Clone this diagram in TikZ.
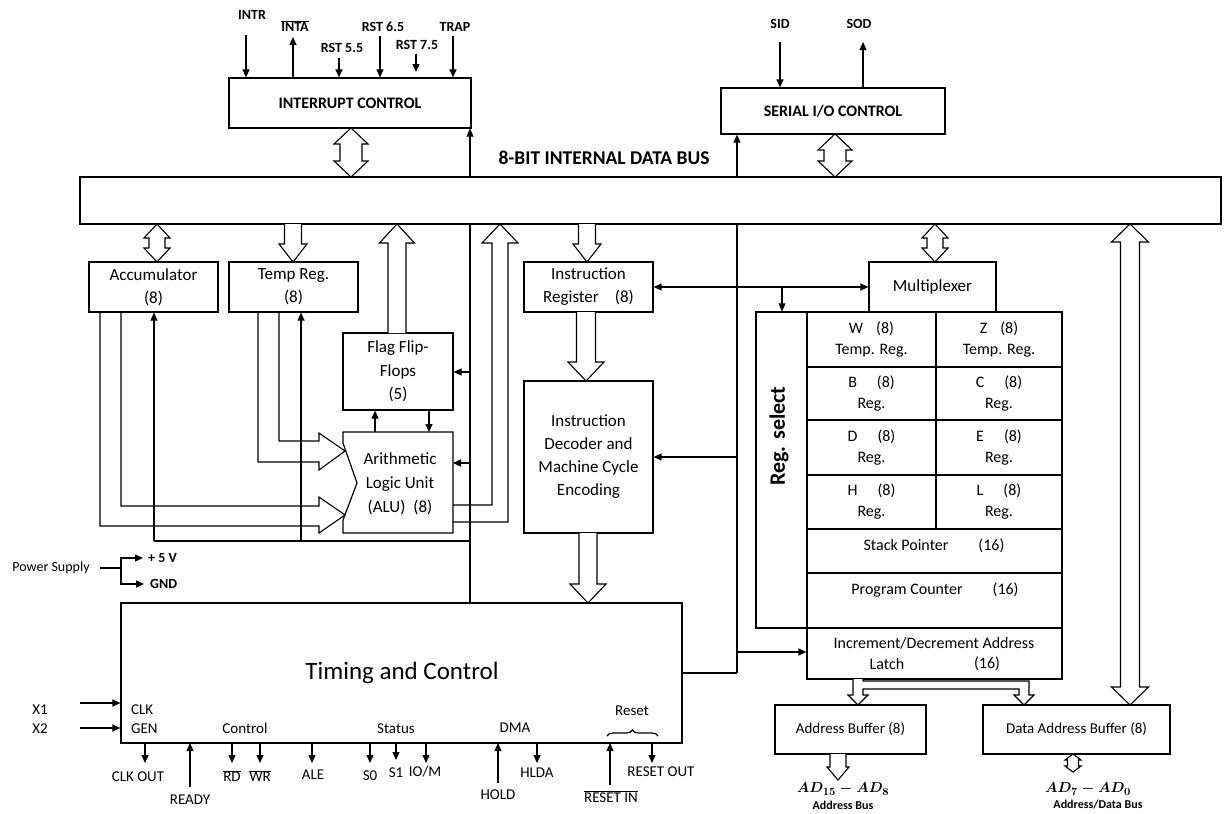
\documentclass[tikz,border=0pt]{standalone}
\usepackage{fontspec}
\setmainfont{Carlito}
\usetikzlibrary{arrows.meta,decorations.pathreplacing}
\pgfdeclarelayer{bg}
\pgfsetlayers{bg,main}
\newcommand\fs[2]{\fontsize{#1}{#2}\selectfont}
\newcommand\ovl[1]{$\overline{\mbox{#1}}$}
\tikzset{
 box/.style={draw, line width=1.2pt, fill=white, inner sep=0pt, align=center, font=\fs{17}{23}},
 ln/.style={line width=1.2pt},
 arr/.style={ln, -{Triangle[length=8pt,width=7pt]}},
 darr/.style={ln, {Triangle[length=8pt,width=7pt]}-{Triangle[length=8pt,width=7pt]}},
 hol/.style={line width=1.1pt, fill=white, line join=miter},
 hol0/.style={line width=1.1pt, line join=miter},
 lbl/.style={inner sep=0pt, font=\fs{15}{18}},
 blbl/.style={inner sep=0pt, font=\bfseries\fs{14}{17}},
 txt/.style={inner sep=0pt, align=center, font=\fs{16}{21}},
}
\newcommand\bx[7][]{%
 \pgfmathsetmacro\BXcx{(#3+#5)/2}\pgfmathsetmacro\BXcy{(#4+#6)/2}%
 \pgfmathsetmacro\BXw{#5-#3}\pgfmathsetmacro\BXh{#6-#4}%
 \node[box,minimum width=\BXw pt,minimum height=\BXh pt,#1] (#2) at (\BXcx,\BXcy) {#7};}
% hollow single vertical arrow: x, ytail, ytip, shaft half, head half, head length
\newcommand\hsv[6]{%
 \pgfmathsetmacro\HSd{ifthenelse(#3>#2,1,-1)}%
 \filldraw[hol] ({#1-#4},#2) -- ({#1-#4},{#3-\HSd*#6}) -- ({#1-#5},{#3-\HSd*#6}) -- (#1,#3) -- ({#1+#5},{#3-\HSd*#6}) -- ({#1+#4},{#3-\HSd*#6}) -- ({#1+#4},#2);}
% hollow double vertical arrow: x, y1, y2, shaft half, head half, head length
\newcommand\hdv[6]{%
 \filldraw[hol] (#1,#2) -- ({#1+#5},{#2+#6}) -- ({#1+#4},{#2+#6}) -- ({#1+#4},{#3-#6}) -- ({#1+#5},{#3-#6}) -- (#1,#3) -- ({#1-#5},{#3-#6}) -- ({#1-#4},{#3-#6}) -- ({#1-#4},{#2+#6}) -- ({#1-#5},{#2+#6}) -- cycle;}
\begin{document}
\begin{tikzpicture}[x=1pt,y=-1pt]
\useasboundingbox (0,0) rectangle (1224,814);

% ---------- boxes ----------
\bx{bus}{80}{177}{1221}{224}{}
\node[inner sep=0pt,font=\bfseries\fs{19.5}{22}] (buslbl) at (604,158) {8-BIT INTERNAL DATA BUS};

\bx[font=\bfseries\fs{16}{19}]{intc}{229}{78}{471}{128}{INTERRUPT CONTROL}
\bx[font=\bfseries\fs{16}{19}]{sio}{721}{88}{945}{134}{SERIAL I/O CONTROL}

\bx{acc}{89}{262}{218}{312}{Accumulator\\(8)}
\bx{tmp}{229}{262}{358}{312}{Temp Reg.\\(8)}
\bx[font=\fs{17}{23.5}]{flag}{343}{333}{453}{410}{Flag Flip-\\Flops\\(5)}
\draw[ln,fill=white] (343,432) -- (453,432) -- (453,533) -- (343,533) -- (343,520) -- (357,483) -- (343,443) -- cycle;
\node[inner sep=0pt,align=center,font=\fs{17}{24}] (alu) at (400,484) {Arithmetic\\Logic Unit\\(ALU)\hspace{8pt}(8)};

\bx{ir}{524}{262}{653}{312}{Instruction\\Register\hspace{16pt}(8)}
\bx{dec}{524}{381}{653}{533}{Instruction\\Decoder and\\Machine Cycle\\Encoding}
\bx{mux}{869}{262}{996}{312}{Multiplexer}

\bx{rsel}{756}{312}{807}{628}{}
\node[rotate=90,inner sep=0pt,font=\bfseries\fs{22}{26}] (rseltxt) at (779,436) {Reg. select};
\bx[font=\fs{16}{21}]{W}{807}{312}{936}{367}{W\hspace{13pt}(8)\\Temp. Reg.}
\bx[font=\fs{16}{21}]{Z}{936}{312}{1062}{367}{Z\hspace{13pt}(8)\\Temp. Reg.}
\bx[font=\fs{16}{21}]{B}{807}{367}{936}{420}{B\hspace{20pt}(8)\\Reg.}
\bx[font=\fs{16}{21}]{C}{936}{367}{1062}{420}{C\hspace{20pt}(8)\\Reg.}
\bx[font=\fs{16}{21}]{D}{807}{420}{936}{475}{D\hspace{20pt}(8)\\Reg.}
\bx[font=\fs{16}{21}]{E}{936}{420}{1062}{475}{E\hspace{20pt}(8)\\Reg.}
\bx[font=\fs{16}{21}]{H}{807}{475}{936}{529}{H\hspace{20pt}(8)\\Reg.}
\bx[font=\fs{16}{21}]{L}{936}{475}{1062}{529}{L\hspace{20pt}(8)\\Reg.}
\bx{sp}{807}{529}{1062}{573}{}
\node[txt] (sptxt) at (934,546) {Stack Pointer\hspace{30pt}(16)};
\bx{pc}{807}{573}{1062}{628}{}
\node[txt] (pctxt) at (935,590) {Program Counter\hspace{30pt}(16)};
\bx{latch}{807}{628}{1062}{679}{}
\node[txt] (latch1) at (934,643) {Increment/Decrement Address};
\node[txt] (latch2) at (887,664) {Latch};
\node[txt] (latch3) at (987,664) {(16)};

\bx[font=\fs{15}{18}]{abuf}{775}{705}{926}{754}{Address Buffer (8)}
\bx[font=\fs{15}{18}]{dbuf}{983}{705}{1170}{754}{Data Address Buffer (8)}

\bx{tc}{121}{603}{682}{743}{}
\node[inner sep=0pt,font=\fs{25}{30}] (tctxt) at (402,673) {Timing and Control};
\node[lbl,anchor=west] (clk) at (131,710) {CLK};
\node[lbl,anchor=west] (gen) at (131,729) {GEN};
\node[lbl] (ctrl) at (245,728) {Control};
\node[lbl] (status) at (396,729) {Status};
\node[lbl] (dma) at (515,728) {DMA};
\node[lbl] (reset) at (632,711) {Reset};
\draw[ln,decorate,decoration={brace,amplitude=6pt}] (607,736) -- (658,736);

% ---------- connectors behind boxes ----------
\begin{pgfonlayer}{bg}
\draw[arr] (470,0 |- tc.north) -- (470,0 |- intc.south);
\draw[arr] (470,372) -- (470,372 -| flag.east);
\draw[arr] (470,463) -- (453,463);
\draw[ln] (470,541) -- (154,541);
\draw[arr] (154,541) -- (154,0 |- acc.south);
\draw[arr] (301,541) -- (301,0 |- tmp.south);
\draw[arr] (375,432) -- (375,0 |- flag.south);
\draw[arr] (429,0 |- flag.south) -- (429,432);
\draw[ln] (tc.east |- 0,673) -- (737,673);
\draw[arr] (737,673) -- (737,0 |- sio.south);
\draw[arr] (737,652) -- (latch.west |- 0,652);
\draw[arr] (737,457) -- (dec.east |- 0,457);
\draw[darr] (mux.west |- 0,287) -- (ir.east |- 0,287);
\draw[arr] (782,287) -- (782,0 |- rsel.north);
\end{pgfonlayer}

% ---------- hollow arrows ----------
\hdv{351}{128}{177}{11}{17}{16}
\hdv{835}{134}{177}{11}{17}{16}
\hdv{157}{224}{262}{8}{13}{14}
\hdv{935}{224}{262}{8}{13}{14}
\hsv{293}{224}{262}{8.5}{14}{18}
\hsv{587}{224}{262}{8.5}{14}{18}
\hsv{397}{333}{224}{9}{17.5}{19}
\hsv{586}{312}{381}{9.5}{18}{19}
\hsv{588}{533}{603}{9}{18}{19}
\hdv{1130}{224}{705}{9.5}{18.5}{18}
\hsv{838}{754}{780}{8}{11}{13}
\hdv{1073}{754}{772}{5.5}{8}{6}
% ALU output to bus
\draw[hol0] (453,505) -- (492,505) -- (492,243) -- (482,243) -- (500,224) -- (518,243) -- (508,243) -- (508,522) -- (453,522);
% Temp reg to ALU
\draw[hol0] (258,312) -- (258,462) -- (319,462) -- (319,470) -- (345,451) -- (319,433) -- (319,441) -- (279,441) -- (279,312);
% Accumulator to ALU
\draw[hol0] (100,312) -- (100,526) -- (319,526) -- (319,533) -- (345,515) -- (319,497) -- (319,506) -- (121,506) -- (121,312);
% latch to buffers
\filldraw[hol] (853,679) -- (853,695) -- (848,695) -- (858,705) -- (868,695) -- (863,695) -- (863,689) -- (1019,689) -- (1019,695) -- (1014,695) -- (1024,705) -- (1034,695) -- (1029,695) -- (1029,681) -- (863,681) -- (863,679);

% ---------- top signals ----------
\node[blbl] (intr) at (252,15) {INTR};
\draw[arr] (246,35) -- (246,0 |- intc.north);
\node[blbl] (inta) at (295,26) {\ovl{INTA}};
\draw[arr] (293,0 |- intc.north) -- (293,37);
\node[blbl] (rst55) at (342,48) {RST 5.5};
\draw[arr] (339,58) -- (339,0 |- intc.north);
\node[blbl] (rst65) at (383,27) {RST 6.5};
\draw[arr] (380,36) -- (380,0 |- intc.north);
\node[blbl] (rst75) at (417,45) {RST 7.5};
\draw[arr] (416,54) -- (416,72);
\node[blbl] (trap) at (455,27) {TRAP};
\draw[arr] (453,36) -- (453,0 |- intc.north);
\node[blbl] (sid) at (780,24) {SID};
\draw[arr] (780,42) -- (780,0 |- sio.north);
\node[blbl] (sod) at (859,24) {SOD};
\draw[arr] (863,0 |- sio.north) -- (863,42);

% ---------- power / clock ----------
\node[inner sep=0pt,font=\fs{14}{17}] (ps) at (51,568) {Power Supply};
\coordinate (psj) at (121,568);
\draw[ln] (100,568) -- (psj);
\node[inner sep=0pt,anchor=west,font=\bfseries\fs{14}{17}] (p5) at (148,558) {+ 5 V};
\node[inner sep=0pt,anchor=west,font=\bfseries\fs{14}{17}] (gnd) at (150,584) {GND};
\draw[arr] (psj) -- (121,558) -- ([xshift=-5pt]p5.west);
\draw[arr] (psj) -- (121,584) -- ([xshift=-6pt]gnd.west);
\node[lbl] (x1) at (40,710) {X1};
\node[lbl] (x2) at (40,729) {X2};
\draw[arr] (80,703) -- (tc.west |- 0,703);
\draw[arr] (80,728) -- (tc.west |- 0,728);

% ---------- bottom signals ----------
\draw[arr] (145,743) -- (145,763);
\node[lbl] (clkout) at (138,777) {CLK OUT};
\draw[arr] (190,787) -- (190,743);
\node[lbl] (ready) at (190,800) {READY};
\draw[arr] (232,743) -- (232,763);
\node[lbl] (rd) at (232,776) {\ovl{RD}};
\draw[arr] (260,743) -- (260,763);
\node[lbl] (wr) at (260,776) {\ovl{WR}};
\draw[arr] (312,743) -- (312,763);
\node[lbl] (ale) at (313,775) {ALE};
\draw[arr] (370,743) -- (370,763);
\node[lbl] (s0) at (370,776) {S0};
\draw[arr] (396,743) -- (396,760);
\node[lbl] (s1) at (396,773) {S1};
\draw[arr] (426,743) -- (426,763);
\node[lbl] (iom) at (425,772) {IO/M};
\draw[arr] (498,783) -- (498,743);
\node[lbl] (hold) at (498,795) {HOLD};
\draw[arr] (537,743) -- (537,763);
\node[lbl] (hlda) at (537,773) {HLDA};
\draw[arr] (610,785) -- (610,743);
\node[lbl] (resetin) at (611,797) {\ovl{RESET IN}};
\draw[arr] (652,743) -- (652,763);
\node[lbl] (resetout) at (661,772) {RESET OUT};

% ---------- bus labels ----------
\node[inner sep=0pt,font=\boldmath\fs{15}{18}] (ad1) at (843,789) {$AD_{15}-AD_8$};
\node[inner sep=0pt,font=\bfseries\fs{12}{14}] (ad1b) at (843,805) {Address Bus};
\node[inner sep=0pt,font=\boldmath\fs{15}{18}] (ad2) at (1088,789) {$AD_7-AD_0$};
\node[inner sep=0pt,font=\bfseries\fs{12}{14}] (ad2b) at (1098,805) {Address/Data Bus};
\end{tikzpicture}
\end{document}
